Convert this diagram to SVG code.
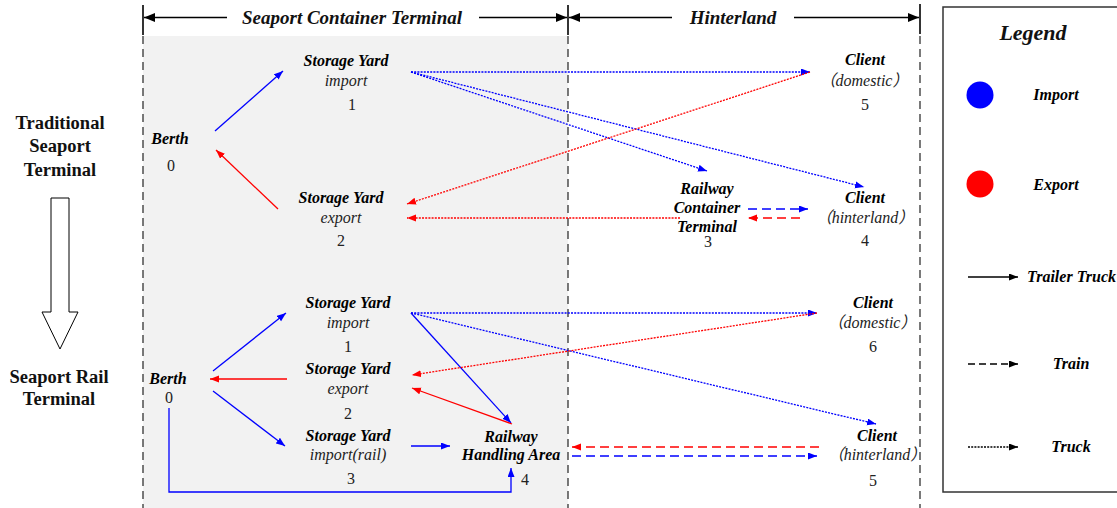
<svg xmlns="http://www.w3.org/2000/svg" width="1117" height="508" viewBox="0 0 1117 508">
<defs>
<style>
.bi{font-family:"Liberation Serif","Noto Sans CJK SC",serif;font-weight:bold;font-style:italic;font-size:16px;fill:#000;text-anchor:middle}
.it{font-family:"Liberation Serif","Noto Sans CJK SC",serif;font-style:italic;font-size:16px;fill:#222;text-anchor:middle}
.num{font-family:"Liberation Serif",serif;font-size:16px;fill:#222;text-anchor:middle}
.hdr{font-family:"Liberation Serif",serif;font-weight:bold;font-style:italic;font-size:19px;fill:#111;text-anchor:middle}
.lft{font-family:"Liberation Serif",serif;font-weight:bold;font-size:18.5px;fill:#111;text-anchor:middle}
.sep{stroke:#333;stroke-width:1.3;stroke-dasharray:8,5;fill:none}
.blue{stroke:#0000ff;fill:none;stroke-width:1.3}
.red{stroke:#ff0000;fill:none;stroke-width:1.3}
.dot{stroke-dasharray:2,1.2}
.dash{stroke-dasharray:9,5}
.blk{stroke:#000;fill:none;stroke-width:1.3}
</style>
<marker id="ab" markerUnits="userSpaceOnUse" markerWidth="10" markerHeight="8" refX="9" refY="3.5" orient="auto"><path d="M0,0 L9,3.5 L0,7 z" fill="#0000ff"/></marker>
<marker id="ar" markerUnits="userSpaceOnUse" markerWidth="10" markerHeight="8" refX="9" refY="3.5" orient="auto"><path d="M0,0 L9,3.5 L0,7 z" fill="#ff0000"/></marker>
<marker id="ak" markerUnits="userSpaceOnUse" markerWidth="10" markerHeight="8" refX="9" refY="3.5" orient="auto"><path d="M0,0 L9,3.5 L0,7 z" fill="#000"/></marker>
<marker id="akb" markerUnits="userSpaceOnUse" markerWidth="12" markerHeight="10" refX="11" refY="4.5" orient="auto"><path d="M0,0 L11,4.5 L0,9 z" fill="#000"/></marker>
</defs>

<g id="background">
<rect x="143" y="36" width="425" height="472" fill="#f2f2f2"/>
<line class="sep" x1="143" y1="36" x2="143" y2="508"/>
<line class="sep" x1="568" y1="36" x2="568" y2="508"/>
<line class="sep" x1="920" y1="36" x2="920" y2="508"/>
</g>

<g id="header">
<line x1="143" y1="5" x2="143" y2="35" stroke="#000" stroke-width="1.6"/>
<line x1="568" y1="5" x2="568" y2="35" stroke="#000" stroke-width="1.6"/>
<line x1="920" y1="4" x2="920" y2="34" stroke="#000" stroke-width="1.6"/>
<line class="blk" x1="227" y1="17.5" x2="144" y2="17.5" marker-end="url(#akb)"/>
<line class="blk" x1="479" y1="17.5" x2="567" y2="17.5" marker-end="url(#akb)"/>
<line class="blk" x1="672" y1="17.5" x2="569" y2="17.5" marker-end="url(#akb)"/>
<line class="blk" x1="794" y1="17.5" x2="919" y2="17.5" marker-end="url(#akb)"/>
<text class="hdr" x="352" y="24">Seaport Container Terminal</text>
<text class="hdr" x="733" y="24">Hinterland</text>
</g>

<g id="left-labels">
<text class="lft" x="60" y="129">Traditional</text>
<text class="lft" x="60" y="152">Seaport</text>
<text class="lft" x="60" y="176">Terminal</text>
<polygon points="51,198 69,198 69,312 78,312 60,349 42,312 51,312" fill="#fff" stroke="#000" stroke-width="1"/>
<text class="lft" x="59" y="383">Seaport Rail</text>
<text class="lft" x="59" y="405">Terminal</text>
</g>

<g id="legend">
<rect x="943" y="7" width="190" height="485" fill="#fff" stroke="#333" stroke-width="1.5"/>
<text class="hdr" x="1033" y="40" style="font-size:22px">Legend</text>
<circle cx="980" cy="95" r="13.5" fill="#0000ff"/>
<text class="bi" x="1056" y="100">Import</text>
<circle cx="980" cy="184" r="13.5" fill="#ff0000"/>
<text class="bi" x="1056" y="190">Export</text>
<line class="blk" x1="968" y1="277" x2="1018" y2="277" marker-end="url(#ak)"/>
<text class="bi" x="1027" y="282" style="text-anchor:start">Trailer Truck</text>
<line class="blk dash" x1="968" y1="364" x2="1018" y2="364" style="stroke-dasharray:7,4" marker-end="url(#ak)"/>
<text class="bi" x="1071" y="369">Train</text>
<line class="blk dot" x1="968" y1="447" x2="1018" y2="447" marker-end="url(#ak)"/>
<text class="bi" x="1071" y="452">Truck</text>
</g>

<g id="t-berth"><text class="bi" x="170" y="144">Berth</text><text class="num" x="171" y="171">0</text></g>
<g id="t-yard-import"><text class="bi" x="346" y="66">Storage Yard</text><text class="it" x="346" y="86">import</text><text class="num" x="352" y="110">1</text></g>
<g id="t-yard-export"><text class="bi" x="341" y="203">Storage Yard</text><text class="it" x="341" y="223">export</text><text class="num" x="341" y="246">2</text></g>
<g id="t-rail-terminal"><text class="bi" x="707" y="194">Railway</text><text class="bi" x="707" y="213">Container</text><text class="bi" x="707" y="232">Terminal</text><text class="num" x="708" y="247">3</text></g>
<g id="t-client-domestic"><text class="bi" x="865" y="65">Client</text><text class="it" x="864" y="86">（domestic）</text><text class="num" x="865" y="110">5</text></g>
<g id="t-client-hinterland"><text class="bi" x="865" y="203">Client</text><text class="it" x="865" y="223">（hinterland）</text><text class="num" x="865" y="246">4</text></g>

<g id="r-berth"><text class="bi" x="168" y="384">Berth</text><text class="num" x="169" y="403">0</text></g>
<g id="r-yard-import"><text class="bi" x="348" y="308">Storage Yard</text><text class="it" x="348" y="328">import</text><text class="num" x="348" y="352">1</text></g>
<g id="r-yard-export"><text class="bi" x="348" y="374">Storage Yard</text><text class="it" x="348" y="394">export</text><text class="num" x="348" y="419">2</text></g>
<g id="r-yard-rail"><text class="bi" x="348" y="441">Storage Yard</text><text class="it" x="348" y="460">import(rail)</text><text class="num" x="351" y="484">3</text></g>
<g id="r-handling"><text class="bi" x="511" y="442">Railway</text><text class="bi" x="511" y="460">Handling Area</text><text class="num" x="525" y="485">4</text></g>
<g id="r-client-domestic"><text class="bi" x="873" y="308">Client</text><text class="it" x="872" y="328">（domestic）</text><text class="num" x="873" y="352">6</text></g>
<g id="r-client-hinterland"><text class="bi" x="877" y="441">Client</text><text class="it" x="877" y="460">（hinterland）</text><text class="num" x="873" y="486">5</text></g>

<g id="connectors">
<line class="blue" x1="215" y1="131" x2="283" y2="71" marker-end="url(#ab)"/>
<line class="red" x1="278" y1="209" x2="216" y2="150" marker-end="url(#ar)"/>
<line class="blue dot" x1="411" y1="72" x2="810" y2="72" marker-end="url(#ab)"/>
<line class="blue dot" x1="411" y1="72" x2="707" y2="171" marker-end="url(#ab)"/>
<line class="blue dot" x1="411" y1="72" x2="864" y2="187" marker-end="url(#ab)"/>
<line class="red dot" x1="810" y1="72" x2="407" y2="204" marker-end="url(#ar)"/>
<line class="red dot" x1="680" y1="218" x2="407" y2="218" marker-end="url(#ar)"/>
<line class="blue dash" x1="748" y1="209" x2="808" y2="209" marker-end="url(#ab)"/>
<line class="red dash" x1="800" y1="218" x2="748" y2="218" marker-end="url(#ar)"/>
<line class="blue" x1="213" y1="371" x2="286" y2="313" marker-end="url(#ab)"/>
<line class="red" x1="287" y1="379" x2="210" y2="379" marker-end="url(#ar)"/>
<line class="blue" x1="213" y1="391" x2="285" y2="446" marker-end="url(#ab)"/>
<line class="blue" x1="411" y1="446" x2="450" y2="446" marker-end="url(#ab)"/>
<polyline class="blue" points="169,408 169,492 511,492 511,468" marker-end="url(#ab)"/>
<line class="blue" x1="411" y1="313" x2="511" y2="423" marker-end="url(#ab)"/>
<line class="red" x1="512" y1="424" x2="412" y2="388" marker-end="url(#ar)"/>
<line class="blue dot" x1="411" y1="313" x2="817" y2="313" marker-end="url(#ab)"/>
<line class="blue dot" x1="411" y1="313" x2="876" y2="424" marker-end="url(#ab)"/>
<line class="red dot" x1="817" y1="313" x2="412" y2="375" marker-end="url(#ar)"/>
<line class="red dash" x1="819" y1="447" x2="572" y2="447" marker-end="url(#ar)"/>
<line class="blue dash" x1="572" y1="456" x2="817" y2="456" marker-end="url(#ab)"/>
</g>
</svg>
